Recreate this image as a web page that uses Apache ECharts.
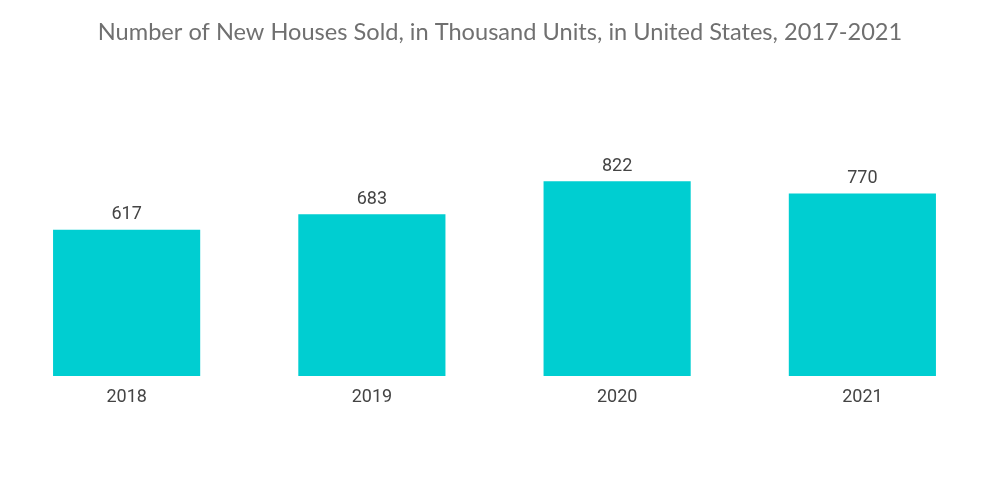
<!DOCTYPE html>
<html>
<head>
<meta charset="utf-8">
<script src="https://cdn.jsdelivr.net/npm/echarts@6/dist/echarts.min.js"></script>
<style>html,body{margin:0;padding:0;background:#fff}#c{width:1000px;height:504px}</style>
</head>
<body>
<div id="c"></div>
<script>
const categories = ['2018', '2019', '2020', '2021'];
const values = [617, 683, 822, 770];
const titleText = 'Number of New Houses Sold, in Thousand Units, in United States, 2017-2021';

const chart = echarts.init(document.getElementById('c'));
chart.setOption({
  animation: false,
  title: {
    text: titleText,
    left: 'center',
    top: 15,
    textStyle: { fontFamily: 'Lato', fontWeight: 'normal', fontSize: 23.6, color: '#707070' }
  },
  grid: { left: 4, right: 15, top: 139, bottom: 128 },
  xAxis: {
    type: 'category',
    data: categories,
    axisLine: { show: false },
    axisTick: { show: false },
    axisLabel: { color: '#444', fontSize: 18, fontFamily: 'Roboto', margin: 12 }
  },
  yAxis: {
    type: 'value',
    min: 0,
    max: 1000,
    show: false,
    splitLine: { show: false }
  },
  series: [{
    type: 'bar',
    data: values,
    barWidth: '60%',
    itemStyle: { color: '#00CED1' },
    label: { show: true, position: 'top', distance: 6, color: '#444', fontSize: 18, fontFamily: 'Roboto' }
  }]
});
</script>
</body>
</html>
